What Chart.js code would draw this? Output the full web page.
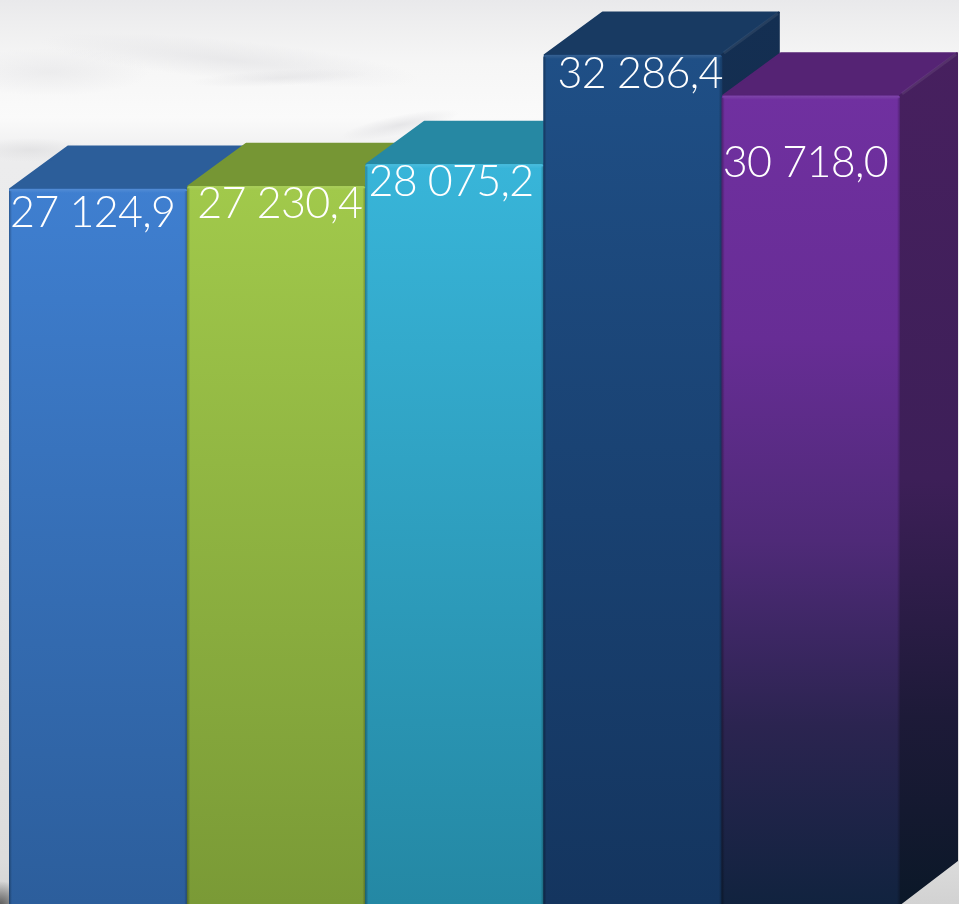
<!DOCTYPE html>
<html>
<head>
<meta charset="utf-8">
<style>html,body{margin:0;padding:0;background:#f4f4f5;overflow:hidden}canvas{display:block}#w{width:959px;height:904px;position:relative}</style>
<script src="https://cdn.jsdelivr.net/npm/chart.js@4"></script>
</head>
<body>
<div id="w"><canvas id="c"></canvas></div>
<script>
const categories = ['A', 'B', 'C', 'D', 'E'];
const values = [27124.9, 27230.4, 28075.2, 32286.4, 30718.0];

const frontStops = [
  [[0,'#3f7fd0'],[1,'#2c5e9c']],
  [[0,'#a1c94b'],[1,'#7a9a36']],
  [[0,'#38b5d9'],[1,'#2488a4']],
  [[0,'#1f4f86'],[1,'#14355f']],
  [[0,'#7030a0'],[0.3,'#672d95'],[0.55,'#4f2a78'],[0.78,'#2b2450'],[1,'#11233f']]
];
const topColors = ['#2c5e9a','#769634','#2688a3','#183a62','#552374'];
const sideStops = [
  [[0,'#264f82'],[1,'#1f4470']],
  [[0,'#637f2b'],[1,'#54702a']],
  [[0,'#1f7490'],[1,'#1a6a85']],
  [[0,'#142f52'],[1,'#0f2644']],
  [[0,'#47205f'],[0.5,'#3d1f58'],[0.78,'#1d1a38'],[1,'#0b1828']]
];
const labelOffsets = [
  {dx:1, dy:38},{dx:10, dy:32},{dx:3, dy:32},{dx:14, dy:33},{dx:1, dy:81}
];
const DEPTH_X = 58, DEPTH_Y = 43.5;
const Y_MIN = -417, Y_MAX = 34406;

function grad(ctx, y0, y1, stops){
  const g = ctx.createLinearGradient(0,y0,0,y1);
  stops.forEach(s=>g.addColorStop(s[0],s[1]));
  return g;
}
function fmt(v){
  const s = v.toFixed(1).split('.');
  return s[0].replace(/\B(?=(\d{3})+$)/g,' ') + ',' + s[1];
}
function blob(ctx,x,y,rx,ry,rot,rgb,a){
  ctx.save();
  ctx.translate(x,y);ctx.rotate(rot);ctx.scale(rx,ry);
  const g = ctx.createRadialGradient(0,0,0,0,0,1);
  g.addColorStop(0,'rgba('+rgb+','+a+')');g.addColorStop(1,'rgba('+rgb+',0)');
  ctx.fillStyle=g;ctx.beginPath();ctx.arc(0,0,1,0,Math.PI*2);ctx.fill();
  ctx.restore();
}

const backdrop = {
  id:'backdrop',
  beforeDraw(chart){
    const ctx = chart.ctx, W = chart.width, H = chart.height;
    ctx.save();
    const g = ctx.createLinearGradient(0,0,0,H);
    g.addColorStop(0,'#e9e9eb');g.addColorStop(0.025,'#eeeeef');g.addColorStop(0.07,'#f6f6f6');g.addColorStop(0.13,'#fafafa');
    g.addColorStop(0.18,'#ececed');g.addColorStop(0.5,'#e9e9e9');g.addColorStop(0.95,'#dcdcdc');g.addColorStop(1,'#d2d2d2');
    ctx.fillStyle=g;ctx.fillRect(0,0,W,H);
    blob(ctx,230,60,190,20,0.1,'214,214,218',0.4);
    blob(ctx,50,72,100,24,0,'216,216,220',0.35);
    blob(ctx,280,78,90,8,-0.05,'208,208,212',0.3);
    blob(ctx,30,150,60,12,0,'214,214,216',0.5);
    blob(ctx,400,125,60,10,-0.2,'212,212,216',0.5);
    blob(ctx,0,905,26,24,0,'70,70,70',0.85);
    ctx.restore();
  }
};

const faces = {
  id:'faces',
  beforeDatasetsDraw(chart){
    const ctx = chart.ctx, meta = chart.getDatasetMeta(0);
    ctx.save();
    ctx.lineJoin = 'round';
    ctx.lineWidth = 2;
    meta.data.forEach((bar,i)=>{
      const l = bar.x-bar.width/2, r = bar.x+bar.width/2, t = bar.y, b = bar.base;
      ctx.fillStyle = topColors[i];
      ctx.strokeStyle = topColors[i];
      ctx.beginPath();
      ctx.moveTo(l+1,t);ctx.lineTo(l+DEPTH_X+1,t-DEPTH_Y+1);ctx.lineTo(r+DEPTH_X-1,t-DEPTH_Y+1);ctx.lineTo(r,t);ctx.closePath();ctx.fill();ctx.stroke();
      const sg = grad(ctx,t-DEPTH_Y,b,sideStops[i]);
      ctx.fillStyle = sg;
      ctx.strokeStyle = sg;
      ctx.beginPath();
      ctx.moveTo(r,t);ctx.lineTo(r+DEPTH_X-1,t-DEPTH_Y+1);ctx.lineTo(r+DEPTH_X-1,b-DEPTH_Y);ctx.lineTo(r,b);ctx.closePath();ctx.fill();ctx.stroke();
      ctx.strokeStyle = 'rgba(255,255,255,0.08)';
      ctx.lineWidth = 3;
      ctx.beginPath();ctx.moveTo(r+2,t-2);ctx.lineTo(r+DEPTH_X-2,t-DEPTH_Y+2);ctx.stroke();
      ctx.lineWidth = 2;
    });
    ctx.restore();
  },
  afterDatasetsDraw(chart){
    const ctx = chart.ctx, meta = chart.getDatasetMeta(0);
    ctx.save();
    meta.data.forEach(bar=>{
      const l = bar.x-bar.width/2, r = bar.x+bar.width/2, t = bar.y, b = bar.base, w = 3;
      let g = ctx.createLinearGradient(l,0,l+w,0);
      g.addColorStop(0,'rgba(0,0,0,0.3)');g.addColorStop(1,'rgba(0,0,0,0)');
      ctx.fillStyle=g;ctx.fillRect(l,t+2,w,b-t);
      g = ctx.createLinearGradient(r-w,0,r,0);
      g.addColorStop(0,'rgba(0,0,0,0)');g.addColorStop(1,'rgba(0,0,0,0.28)');
      ctx.fillStyle=g;ctx.fillRect(r-w,t+2,w,b-t);
      g = ctx.createLinearGradient(0,t,0,t+4);
      g.addColorStop(0,'rgba(255,255,255,0.1)');g.addColorStop(1,'rgba(255,255,255,0)');
      ctx.fillStyle=g;ctx.fillRect(l+1,t,r-l-2,4);
    });
    ctx.font = '300 43px Lato';
    ctx.letterSpacing = '-0.7px';
    ctx.fillStyle = '#ffffff';
    ctx.textAlign = 'left';
    ctx.textBaseline = 'alphabetic';
    meta.data.forEach((bar,i)=>{
      const l = bar.x-bar.width/2;
      ctx.fillText(fmt(values[i]), l+labelOffsets[i].dx, bar.y+labelOffsets[i].dy);
    });
    ctx.restore();
  }
};

new Chart(document.getElementById('c'),{
  type:'bar',
  data:{
    labels:categories,
    datasets:[{
      data:values,
      base:Y_MIN,
      borderWidth:0,
      borderRadius:{topLeft:3,topRight:3,bottomLeft:0,bottomRight:0},
      borderSkipped:false,
      barPercentage:1,
      categoryPercentage:1,
      backgroundColor(c){
        const chart=c.chart;
        if(!chart.chartArea) return '#888';
        const y0=chart.scales.y.getPixelForValue(values[c.dataIndex]);
        return grad(chart.ctx,y0,chart.chartArea.bottom,frontStops[c.dataIndex]);
      }
    }]
  },
  options:{
    responsive:true,maintainAspectRatio:false,animation:false,
    layout:{padding:{left:9,right:59,top:0,bottom:0}},
    plugins:{legend:{display:false},tooltip:{enabled:false}},
    scales:{
      x:{display:false,offset:true},
      y:{display:false,min:Y_MIN,max:Y_MAX}
    }
  },
  plugins:[backdrop,faces]
});
</script>
</body>
</html>
